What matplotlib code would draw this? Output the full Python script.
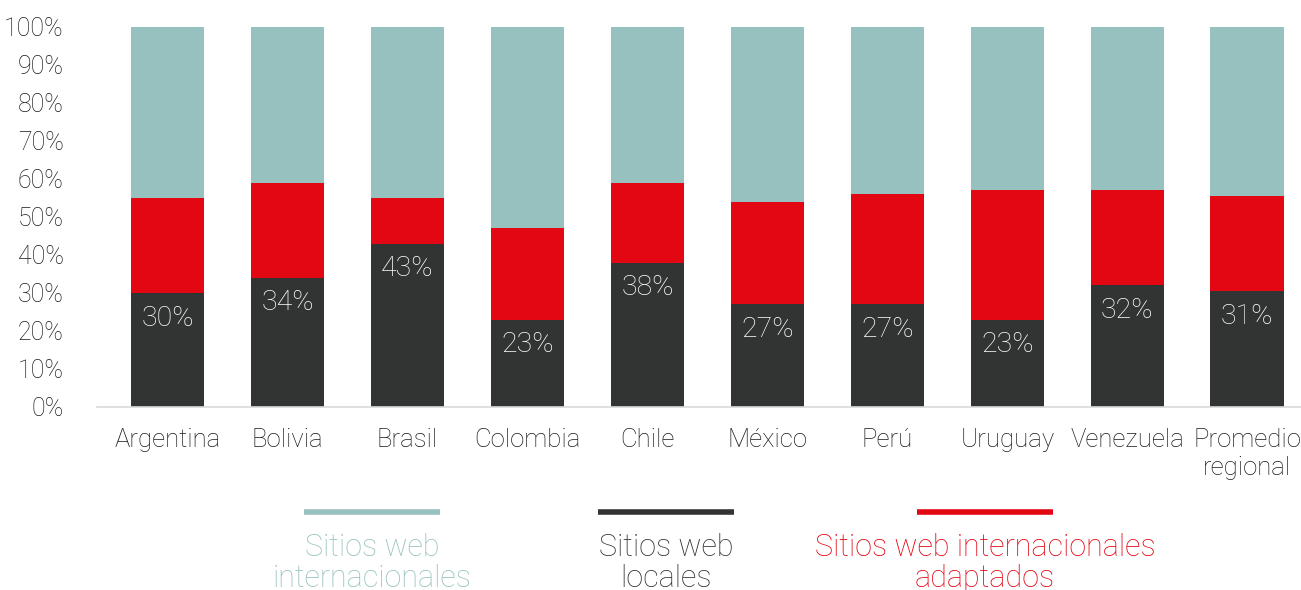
import matplotlib
matplotlib.use('Agg')
import matplotlib.pyplot as plt
from matplotlib.lines import Line2D
import numpy as np

plt.rcParams['font.family'] = ['Roboto', 'DejaVu Sans']

paises = ['Argentina', 'Bolivia', 'Brasil', 'Colombia', 'Chile', 'México',
          'Perú', 'Uruguay', 'Venezuela', 'Promedio\nregional']
locales = [30, 34, 43, 23, 38, 27, 27, 23, 32, 30.5]
adaptados = [25, 25, 12, 24, 21, 27, 29, 34, 25, 25]
internacionales = [100 - l - a for l, a in zip(locales, adaptados)]
etiquetas = ['30%', '34%', '43%', '23%', '38%', '27%', '27%', '23%', '32%', '31%']

c_int = '#96C1BE'
c_loc = '#323333'
c_ada = '#E30613'
peso = 'light'

fig = plt.figure(figsize=(13.01, 5.9), dpi=100)
ax = fig.add_axes([97 / 1301, 183 / 590, 1204 / 1301, 380 / 590])

x = np.arange(len(paises))
w = 0.61
ax.bar(x, locales, w, color=c_loc)
ax.bar(x, adaptados, w, bottom=locales, color=c_ada)
ax.bar(x, internacionales, w, bottom=np.add(locales, adaptados), color=c_int)

for xi, v, t in zip(x, locales, etiquetas):
    ax.text(xi, v - 6.6, t, ha='center', va='center', color='white',
            fontsize=20.5, fontweight=peso)

ax.set_xlim(-0.59, 9.45)
ax.set_ylim(0, 100)
ax.set_yticks(range(0, 101, 10))
ax.set_yticklabels([f'{v}%' for v in range(0, 101, 10)], fontsize=18,
                   fontweight=peso, color='#1a1a1a')
ax.set_xticks(x)
ax.set_xticklabels(paises, fontsize=18.5, fontweight=peso, color='#1a1a1a',
                   linespacing=1.2)
ax.tick_params(length=0, axis='both')
ax.tick_params(axis='x', pad=15)
ax.tick_params(axis='y', pad=24)
for yl in ax.get_yticklabels():
    yl.set_horizontalalignment('right')
for s in ['top', 'right', 'left']:
    ax.spines[s].set_visible(False)
ax.spines['bottom'].set_color('#d9d9d9')
ax.spines['bottom'].set_linewidth(1.2)

# leyenda
ley = [('Sitios web\ninternacionales', c_int, 372),
       ('Sitios web\nlocales', c_loc, 666),
       ('Sitios web internacionales\nadaptados', c_ada, 985)]
for txt, col, cx in ley:
    fig.add_artist(Line2D([(cx - 68) / 1301, (cx + 68) / 1301],
                          [1 - 512 / 590, 1 - 512 / 590],
                          color=col, lw=4, solid_capstyle='butt'))
    fig.text(cx / 1301, 1 - 563 / 590, txt, ha='center', va='center',
             color=col, fontsize=22, fontweight=peso, linespacing=1.1)

fig.savefig('out.png', dpi=100)
